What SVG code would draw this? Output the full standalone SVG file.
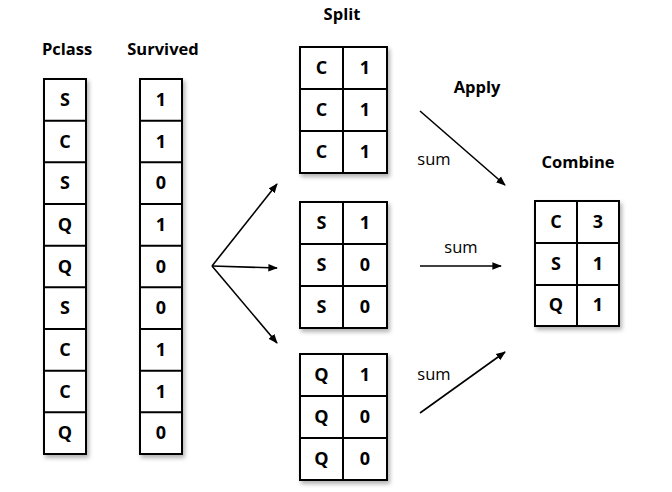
<svg xmlns="http://www.w3.org/2000/svg" width="672" height="492" viewBox="0 0 672 492">
<style>
.cell{fill:#fff;stroke:#000;stroke-width:2}
.ln{stroke:#000;stroke-width:2;fill:none}
.t{font-family:"Open Sans","Liberation Sans",Arial,sans-serif;font-weight:bold;font-size:18px;text-anchor:middle;fill:#000}
.h{font-family:"Open Sans","Liberation Sans",Arial,sans-serif;font-weight:bold;font-size:16.5px;text-anchor:middle;fill:#000}
.s{font-family:"Open Sans","Liberation Sans",Arial,sans-serif;font-size:16.5px;text-anchor:middle;fill:#000}
.arr{stroke:#000;stroke-width:1.6;fill:none;marker-end:url(#ah)}
</style>
<defs>
<marker id="ah" viewBox="0 0 10 10" refX="9" refY="5" markerWidth="6" markerHeight="6" orient="auto" markerUnits="strokeWidth">
<path d="M0,1 L10,5 L0,9 z" fill="#000"/>
</marker>
<filter id="sh" x="-10%" y="-10%" width="130%" height="130%">
<feDropShadow dx="2" dy="3" stdDeviation="2" flood-color="#000" flood-opacity="0.3"/>
</filter>
</defs>
<rect width="672" height="492" fill="#fff"/>

<g id="pclass">
<text class="h" x="67" y="55">Pclass</text>
<rect class="cell" x="44" y="79" width="42" height="375" filter="url(#sh)"/>
<path class="ln" d="M44,120.7H86M44,162.3H86M44,204H86M44,245.7H86M44,287.3H86M44,329H86M44,370.7H86M44,412.3H86"/>
<text class="t" x="65" y="106">S</text>
<text class="t" x="65" y="148">C</text>
<text class="t" x="65" y="189">S</text>
<text class="t" x="65" y="231">Q</text>
<text class="t" x="65" y="273">Q</text>
<text class="t" x="65" y="314">S</text>
<text class="t" x="65" y="356">C</text>
<text class="t" x="65" y="398">C</text>
<text class="t" x="65" y="439">Q</text>
</g>

<g id="survived">
<text class="h" x="163" y="55">Survived</text>
<rect class="cell" x="140" y="79" width="42" height="375" filter="url(#sh)"/>
<path class="ln" d="M140,120.7H182M140,162.3H182M140,204H182M140,245.7H182M140,287.3H182M140,329H182M140,370.7H182M140,412.3H182"/>
<text class="t" x="161" y="106">1</text>
<text class="t" x="161" y="148">1</text>
<text class="t" x="161" y="189">0</text>
<text class="t" x="161" y="231">1</text>
<text class="t" x="161" y="273">0</text>
<text class="t" x="161" y="314">0</text>
<text class="t" x="161" y="356">1</text>
<text class="t" x="161" y="398">1</text>
<text class="t" x="161" y="439">0</text>
</g>

<text class="h" x="342" y="20">Split</text>

<g id="splitC">
<rect class="cell" x="300" y="47" width="87" height="126" filter="url(#sh)"/>
<path class="ln" d="M343,47V173M300,89H387M300,131H387"/>
<text class="t" x="321.5" y="74">C</text><text class="t" x="365" y="74">1</text>
<text class="t" x="321.5" y="116">C</text><text class="t" x="365" y="116">1</text>
<text class="t" x="321.5" y="158">C</text><text class="t" x="365" y="158">1</text>
</g>

<g id="splitS">
<rect class="cell" x="300" y="202" width="87" height="126" filter="url(#sh)"/>
<path class="ln" d="M343,202V328M300,244H387M300,286H387"/>
<text class="t" x="321.5" y="229">S</text><text class="t" x="365" y="229">1</text>
<text class="t" x="321.5" y="271">S</text><text class="t" x="365" y="271">0</text>
<text class="t" x="321.5" y="313">S</text><text class="t" x="365" y="313">0</text>
</g>

<g id="splitQ">
<rect class="cell" x="300" y="354" width="87" height="126" filter="url(#sh)"/>
<path class="ln" d="M343,354V480M300,396H387M300,438H387"/>
<text class="t" x="321.5" y="381">Q</text><text class="t" x="365" y="381">1</text>
<text class="t" x="321.5" y="423">Q</text><text class="t" x="365" y="423">0</text>
<text class="t" x="321.5" y="465">Q</text><text class="t" x="365" y="465">0</text>
</g>

<text class="h" x="477" y="93">Apply</text>
<text class="h" x="578" y="168">Combine</text>

<g id="combine">
<rect class="cell" x="535" y="201" width="84" height="125" filter="url(#sh)"/>
<path class="ln" d="M577,201V326M535,243H619M535,285H619"/>
<text class="t" x="556" y="228">C</text><text class="t" x="598" y="228">3</text>
<text class="t" x="556" y="270">S</text><text class="t" x="598" y="270">1</text>
<text class="t" x="556" y="311">Q</text><text class="t" x="598" y="311">1</text>
</g>

<g id="connectors">
<path class="arr" d="M212,266L277,184"/>
<path class="arr" d="M212,266L277,268"/>
<path class="arr" d="M212,266L277,343"/>
<path class="arr" d="M420,111L505,185"/>
<path class="arr" d="M420,266L501,266"/>
<path class="arr" d="M420,413L505,352"/>
<text class="s" x="434" y="165">sum</text>
<text class="s" x="461" y="253">sum</text>
<text class="s" x="434" y="380">sum</text>
</g>
</svg>
